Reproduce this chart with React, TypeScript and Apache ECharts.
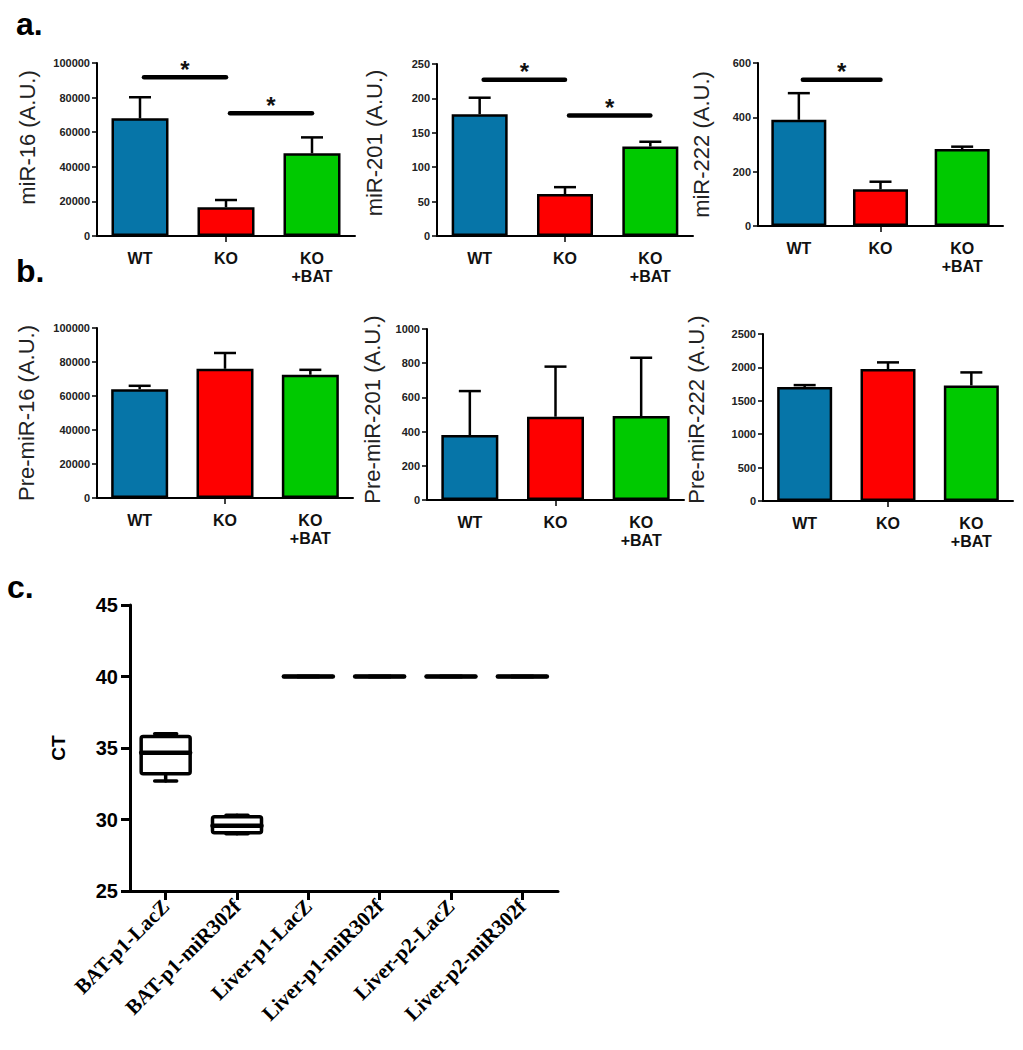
import React, { useEffect, useRef } from "react";
import * as echarts from "echarts";

// ---- data ----
const groups = ["WT", "KO", "KO\n+BAT"];
const barColors = ["#0675a8", "#fe0000", "#00c900"];

const miR16Mean = [68000, 16600, 47800];
const miR16Err = [12200, 4200, 9200];
const miR201Mean = [177, 61, 130];
const miR201Err = [24, 10, 7];
const miR222Mean = [391, 135, 283];
const miR222Err = [98, 28, 9];

const preMiR16Mean = [64000, 76000, 72500];
const preMiR16Err = [2000, 9300, 2900];
const preMiR201Mean = [380, 487, 491];
const preMiR201Err = [257, 293, 341];
const preMiR222Mean = [1705, 1975, 1730];
const preMiR222Err = [30, 100, 195];

// significance brackets: [fromIndex, toIndex, yValue]
const miR16Sig = [[0, 1, 91700], [1, 2, 70900]];
const miR201Sig = [[0, 1, 227], [1, 2, 175]];
const miR222Sig = [[0, 1, 538]];

const ctCategories = [
  "BAT-p1-LacZ",
  "BAT-p1-miR302f",
  "Liver-p1-LacZ",
  "Liver-p1-miR302f",
  "Liver-p2-LacZ",
  "Liver-p2-miR302f",
];
const ctMin = [32.7, 29.0, 40, 40, 40, 40];
const ctQ1 = [33.2, 29.08, 40, 40, 40, 40];
const ctMedian = [34.67, 29.57, 40, 40, 40, 40];
const ctQ3 = [35.8, 30.2, 40, 40, 40, 40];
const ctMax = [36.0, 30.3, 40, 40, 40, 40];

const SANS = "Liberation Sans, Arial, sans-serif";
const SERIF = "Liberation Serif, Times New Roman, serif";

type Panel = {
  grid: { left: number; top: number; width: number; height: number };
  name: string;
  nameGap: number;
  nameShift: number;
  max: number;
  interval: number;
  mean: number[];
  err: number[];
  sig: number[][];
  barWidth: number;
};

const panels: Panel[] = [
  { grid: { left: 97, top: 63, width: 258, height: 173 }, name: "miR-16 (A.U.)", nameGap: 59, nameShift: 24, max: 100000, interval: 20000, mean: miR16Mean, err: miR16Err, sig: miR16Sig, barWidth: 57 },
  { grid: { left: 437, top: 64, width: 256, height: 172 }, name: "miR-201 (A.U.)", nameGap: 52, nameShift: 14, max: 250, interval: 50, mean: miR201Mean, err: miR201Err, sig: miR201Sig, barWidth: 56 },
  { grid: { left: 758, top: 63, width: 245, height: 163 }, name: "miR-222 (A.U.)", nameGap: 46, nameShift: 0, max: 600, interval: 200, mean: miR222Mean, err: miR222Err, sig: miR222Sig, barWidth: 55 },
  { grid: { left: 97, top: 328, width: 256, height: 170 }, name: "Pre-miR-16 (A.U.)", nameGap: 60, nameShift: 0, max: 100000, interval: 20000, mean: preMiR16Mean, err: preMiR16Err, sig: [], barWidth: 57 },
  { grid: { left: 427, top: 329, width: 257, height: 171 }, name: "Pre-miR-201 (A.U.)", nameGap: 44, nameShift: 10, max: 1000, interval: 200, mean: preMiR201Mean, err: preMiR201Err, sig: [], barWidth: 57 },
  { grid: { left: 763, top: 334, width: 250, height: 167 }, name: "Pre-miR-222 (A.U.)", nameGap: 56, nameShift: 16, max: 2500, interval: 500, mean: preMiR222Mean, err: preMiR222Err, sig: [], barWidth: 55 },
];

function buildOption() {
  const grids: any[] = [];
  const xAxes: any[] = [];
  const yAxes: any[] = [];
  const series: any[] = [];

  panels.forEach((p, k) => {
    grids.push({ ...p.grid, containLabel: false });
    xAxes.push({
      gridIndex: k,
      type: "category",
      data: groups,
      axisLine: { show: true, lineStyle: { color: "#000", width: 2 } },
      axisTick: {
        show: true,
        alignWithLabel: true,
        interval: (i: number) => i === 1,
        length: 6,
        lineStyle: { color: "#000", width: 1.5 },
      },
      axisLabel: {
        interval: 0,
        margin: 13,
        fontSize: 16,
        fontWeight: "bold",
        color: "#111",
        fontFamily: SANS,
        lineHeight: 18,
      },
      splitLine: { show: false },
    });
    yAxes.push({
      gridIndex: k,
      type: "value",
      min: 0,
      max: p.max,
      interval: p.interval,
      name: p.name,
      nameLocation: "middle",
      nameGap: p.nameGap,
      nameTextStyle: {
        fontSize: 22,
        color: "#222",
        fontFamily: SANS,
        padding: [0, 0, 0, p.nameShift],
      },
      axisLine: { show: true, lineStyle: { color: "#000", width: 2 } },
      axisTick: { show: true, length: 5, lineStyle: { color: "#000", width: 1.5 } },
      axisLabel: {
        fontSize: 11,
        fontWeight: "bold",
        color: "#222",
        margin: 7,
        fontFamily: SANS,
        formatter: (v: number) => String(v),
      },
      splitLine: { show: false },
    });
    series.push({
      type: "bar",
      xAxisIndex: k,
      yAxisIndex: k,
      barWidth: p.barWidth,
      data: p.mean.map((v, i) => ({
        value: v,
        itemStyle: { color: barColors[i], borderColor: "#000", borderWidth: 2.5 },
      })),
      z: 2,
    });
    series.push({
      type: "custom",
      xAxisIndex: k,
      yAxisIndex: k,
      z: 3,
      encode: { x: 0, y: 1 },
      data: p.mean.map((m, i) => [i, m, p.err[i]]),
      renderItem: (params: any, api: any) => {
        const i = api.value(0);
        const m = api.value(1);
        const e = api.value(2);
        const p0 = api.coord([i, m]);
        const p1 = api.coord([i, m + e]);
        const half = 11;
        return {
          type: "group",
          children: [
            { type: "line", shape: { x1: p0[0], y1: p0[1], x2: p1[0], y2: p1[1] }, style: { stroke: "#000", lineWidth: 2.5 } },
            { type: "line", shape: { x1: p1[0] - half, y1: p1[1], x2: p1[0] + half, y2: p1[1] }, style: { stroke: "#000", lineWidth: 2.5 } },
          ],
        };
      },
    });
    if (p.sig.length) {
      series.push({
        type: "custom",
        xAxisIndex: k,
        yAxisIndex: k,
        z: 4,
        encode: { x: [0, 1], y: 2 },
        data: p.sig,
        renderItem: (params: any, api: any) => {
          const a = api.coord([api.value(0), api.value(2)]);
          const b = api.coord([api.value(1), api.value(2)]);
          return {
            type: "group",
            children: [
              { type: "line", shape: { x1: a[0] + 4, y1: a[1], x2: b[0], y2: b[1] }, style: { stroke: "#000", lineWidth: 4.5, lineCap: "round" } },
              {
                type: "text",
                style: {
                  text: "*",
                  x: (a[0] + b[0]) / 2 + 2,
                  y: a[1] - 20,
                  align: "center",
                  verticalAlign: "top",
                  fontSize: 24,
                  fontWeight: "bold",
                  fontFamily: SANS,
                  fill: "#111",
                },
              },
            ],
          };
        },
      });
    }
  });

  // panel c
  const ci = panels.length;
  grids.push({ left: 130, top: 605, width: 428, height: 286, containLabel: false });
  xAxes.push({
    gridIndex: ci,
    type: "category",
    data: ctCategories,
    axisLine: { show: true, lineStyle: { color: "#000", width: 3 } },
    axisTick: { show: true, alignWithLabel: true, length: 9, lineStyle: { color: "#000", width: 3 } },
    axisLabel: {
      interval: 0,
      rotate: 45,
      margin: 12,
      fontSize: 21,
      fontWeight: "bold",
      fontFamily: SERIF,
      color: "#000",
    },
    splitLine: { show: false },
  });
  yAxes.push({
    gridIndex: ci,
    type: "value",
    min: 25,
    max: 45,
    interval: 5,
    name: "CT",
    nameLocation: "middle",
    nameGap: 62,
    nameTextStyle: { fontSize: 19, fontWeight: "bold", color: "#000", fontFamily: SANS },
    axisLine: { show: true, lineStyle: { color: "#000", width: 3 } },
    axisTick: { show: true, length: 9, lineStyle: { color: "#000", width: 3 } },
    axisLabel: { fontSize: 20, fontWeight: "bold", color: "#000", margin: 12, fontFamily: SANS },
    splitLine: { show: false },
  });
  series.push({
    type: "custom",
    xAxisIndex: ci,
    yAxisIndex: ci,
    z: 3,
    encode: { x: 0, y: [1, 2, 3, 4, 5] },
    data: ctCategories.map((_, i) => [i, ctMin[i], ctQ1[i], ctMedian[i], ctQ3[i], ctMax[i]]),
    renderItem: (params: any, api: any) => {
      const i = api.value(0);
      const pMin = api.coord([i, api.value(1)]);
      const pQ1 = api.coord([i, api.value(2)]);
      const pMed = api.coord([i, api.value(3)]);
      const pQ3 = api.coord([i, api.value(4)]);
      const pMax = api.coord([i, api.value(5)]);
      const cx = pMed[0];
      const hw = 24.5;
      const cap = 11;
      const st = { stroke: "#000", lineWidth: 3.5, lineCap: "round", lineJoin: "round" };
      return {
        type: "group",
        children: [
          { type: "line", shape: { x1: cx, y1: pQ3[1], x2: cx, y2: pMax[1] }, style: st },
          { type: "line", shape: { x1: cx - cap, y1: pMax[1], x2: cx + cap, y2: pMax[1] }, style: st },
          { type: "line", shape: { x1: cx, y1: pQ1[1], x2: cx, y2: pMin[1] }, style: st },
          { type: "line", shape: { x1: cx - cap, y1: pMin[1], x2: cx + cap, y2: pMin[1] }, style: st },
          { type: "rect", shape: { x: cx - hw, y: pQ3[1], width: hw * 2, height: pQ1[1] - pQ3[1], r: 2 }, style: { ...st, fill: "#fff" } },
          { type: "line", shape: { x1: cx - hw, y1: pMed[1], x2: cx + hw, y2: pMed[1] }, style: { ...st, lineWidth: 4.5 } },
        ],
      };
    },
  });

  const letter = (t: string, x: number, y: number) => ({
    type: "text",
    x,
    y,
    style: { text: t, fontSize: 32, fontWeight: "bold", fontFamily: SANS, fill: "#000", verticalAlign: "bottom", align: "left" },
  });

  return {
    animation: false,
    backgroundColor: "#fff",
    grid: grids,
    xAxis: xAxes,
    yAxis: yAxes,
    series,
    graphic: [letter("a.", 16, 40), letter("b.", 16, 287), letter("c.", 7, 603)],
  };
}

export default function App() {
  const ref = useRef<HTMLDivElement>(null);
  useEffect(() => {
    if (!ref.current) return;
    const chart = echarts.init(ref.current, undefined, { renderer: "svg" });
    chart.setOption(buildOption() as any);
    return () => chart.dispose();
  }, []);
  return (
    <div
      ref={ref}
      style={{ position: "absolute", left: 0, top: 0, width: 1023, height: 1050, background: "#fff" }}
    />
  );
}
